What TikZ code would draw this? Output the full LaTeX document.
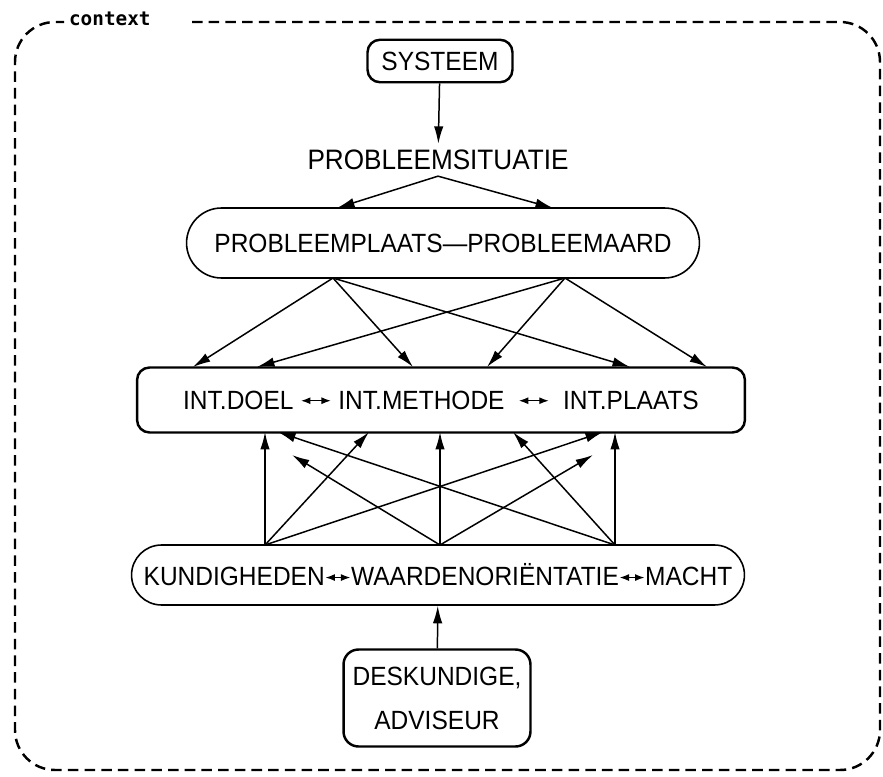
\documentclass[tikz,border=0pt]{standalone}
\usepackage{fontspec}
\setmainfont{Liberation Sans}[FakeStretch=0.93]
\newfontfamily\ctxfont{DejaVu Sans Mono}
\usetikzlibrary{arrows.meta}

% small two-way arrow inside the labels
\newcommand{\twoway}[1][0.6cm]{\tikz[baseline=-0.6ex]\draw[{Latex[length=1.9mm,width=1.4mm]}-{Latex[length=1.9mm,width=1.4mm]}, line width=0.75pt] (0cm,0cm) -- (#1,0cm);}

\begin{document}
\begin{tikzpicture}[
    x=0.02cm, y=-0.02cm,
    >={Latex[length=3.5mm, width=1.9mm]},
    box/.style={draw, line width=1.4pt, align=center, font=\fontsize{15}{18}\selectfont},
    roundbox/.style={box, line width=0.9pt},
    conn/.style={->, line width=0.85pt},
    frame/.style={line width=1.4pt, dash pattern=on 6pt off 3.5pt}
]
\useasboundingbox (0,0) rectangle (883,777);

% Context frame
\draw[frame, rounded corners=0.8cm] (192,22) -- (880,22) -- (880,770) -- (15,770) -- (15,22) -- (64,22);
\node[font=\ctxfont\bfseries\fontsize{11}{13}\selectfont, anchor=west, inner sep=1pt] (ctx) at (67,19) {context};

% Boxes
\node[box, rounded corners=0.25cm, minimum width=2.9cm, minimum height=0.85cm] (systeem) at (440,61) {SYSTEEM};
\node[font=\fontsize{16}{18}\selectfont] (situatie) at (438,160) {PROBLEEMSITUATIE};
\node[roundbox, rounded corners=0.7cm, minimum width=10.26cm, minimum height=1.4cm] (plaats) at (443,243) {PROBLEEMPLAATS—PROBLEEMAARD};
\node[box, rounded corners=0.25cm, minimum width=12.16cm, minimum height=1.3cm] (int) at (441,400) {INT.DOEL \twoway{} INT.METHODE \ \twoway\ \ INT.PLAATS};
\node[roundbox, rounded corners=0.6cm, minimum width=12.26cm, minimum height=1.2cm, inner xsep=2pt] (kund) at (438,575) {KUNDIGHEDEN\twoway[0.5cm]WAARDENORIËNTATIE\twoway[0.5cm]MACHT};
\node[box, rounded corners=0.3cm, minimum width=3.74cm, minimum height=1.94cm] (desk) at (437,698) {DESKUNDIGE,\\[7pt] ADVISEUR};

% Attach points
\coordinate (sL) at (337,208);
\coordinate (sR) at (553,208);
\coordinate (pL) at (333,278);
\coordinate (pR) at (565,278);
\coordinate (t1) at (193,367);
\coordinate (t2) at (257,367);
\coordinate (t3) at (413,367);
\coordinate (t4) at (487,367);
\coordinate (t5) at (630,367);
\coordinate (t6) at (707,367);
\coordinate (kL) at (265,545);
\coordinate (kM) at (440,545);
\coordinate (kR) at (615,545);
\coordinate (b1) at (265,432);
\coordinate (b2) at (369,432);
\coordinate (b3) at (603,432);
\coordinate (b4) at (440,432);
\coordinate (b5) at (292,455);
\coordinate (b6) at (593,455);
\coordinate (b7) at (615,432);
\coordinate (b8) at (513,432);
\coordinate (b9) at (278,432);

% Upper connectors
\draw[conn] (systeem) -- (situatie);
\draw[conn] (situatie.south) -- (sL);
\draw[conn] (situatie.south) -- (sR);
\draw[conn] (pL) -- (t1);
\draw[conn] (pL) -- (t3);
\draw[conn] (pL) -- (t5);
\draw[conn] (pR) -- (t2);
\draw[conn] (pR) -- (t4);
\draw[conn] (pR) -- (t6);

% Lower connectors
\draw[conn] (kL) -- (b1);
\draw[conn] (kL) -- (b2);
\draw[conn] (kL) -- (b3);
\draw[conn] (kM) -- (b4);
\draw[conn] (kM) -- (b5);
\draw[conn] (kM) -- (b6);
\draw[conn] (kR) -- (b7);
\draw[conn] (kR) -- (b8);
\draw[conn] (kR) -- (b9);
\draw[conn] (desk) -- (kund);

\end{tikzpicture}
\end{document}
